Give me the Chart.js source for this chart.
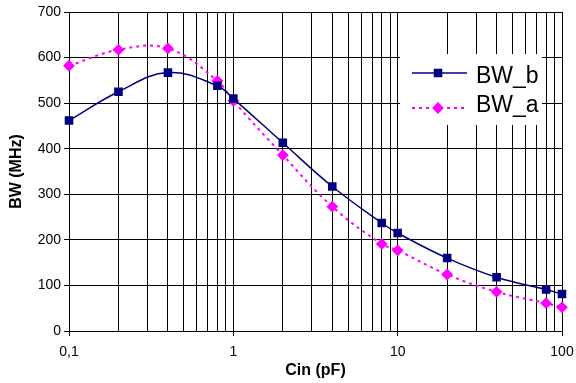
<!DOCTYPE html>
<html>
<head>
<meta charset="utf-8">
<script src="https://cdn.jsdelivr.net/npm/chart.js@4.4.1/dist/chart.umd.min.js"></script>
<style>
  html, body { margin: 0; padding: 0; background: #fff; }
</style>
</head>
<body>
<canvas id="chartId" width="576" height="383"></canvas>
<script>
// data
const cin = [0.1, 0.2, 0.4, 0.8, 1, 2, 4, 8, 10, 20, 40, 80, 100];
const bwB = [462, 525, 567, 538, 510, 413, 317, 237, 215, 160, 118, 91, 81];
const bwA = [582, 617, 620, 549, 505, 386, 273, 191, 177, 124, 86, 61, 52];

// log grid: every 1..9 x 10^n between 0.1 and 100
const xGridTicks = [0.1, 0.2, 0.3, 0.4, 0.5, 0.6, 0.7, 0.8, 0.9,
  1, 2, 3, 4, 5, 6, 7, 8, 9,
  10, 20, 30, 40, 50, 60, 70, 80, 90, 100];
const xMajorTicks = [0.1, 1, 10, 100];
const xMajorLabels = ['0,1', '1', '10', '100'];

const FONT = "'Liberation Sans', Arial, sans-serif";

function pts(xs, ys) {
  return xs.map((x, i) => ({ x: x, y: ys[i] }));
}

function isMajor(v) {
  return xMajorTicks.some(m => Math.abs(m - v) < 1e-9);
}

// legend drawn inside the plot, like the original
const insideLegend = {
  id: 'insideLegend',
  afterDatasetsDraw(chart) {
    const ctx = chart.ctx;
    ctx.save();
    ctx.fillStyle = '#fff';
    ctx.fillRect(400, 54, 142, 71);
    const lineY = [73, 108];
    const textY = [77, 106];
    chart.data.datasets.forEach((ds, i) => {
      const y = lineY[i];
      ctx.strokeStyle = ds.borderColor;
      ctx.lineWidth = ds.borderWidth;
      ctx.setLineDash(ds.borderDash || []);
      ctx.beginPath();
      ctx.moveTo(412, y);
      ctx.lineTo(467, y);
      ctx.stroke();
      ctx.setLineDash([]);
      ctx.fillStyle = ds.pointBackgroundColor;
      ctx.strokeStyle = ds.pointBorderColor;
      Chart.helpers.drawPoint(ctx, {
        pointStyle: ds.pointStyle,
        radius: ds.pointRadius,
        rotation: 0,
        borderWidth: 1
      }, 438, y);
      ctx.fillStyle = '#000';
      ctx.font = '23px ' + FONT;
      ctx.textBaseline = 'middle';
      ctx.textAlign = 'left';
      ctx.fillText(ds.label, 476, textY[i]);
    });
    ctx.restore();
  }
};

var chrt = document.getElementById('chartId').getContext('2d');

let chartConfig = {
  type: 'line',
  data: {
    datasets: [{
      label: 'BW_b',
      data: pts(cin, bwB),
      borderColor: '#000080',
      borderWidth: 1.5,
      pointStyle: 'rect',
      pointRadius: 5,
      pointBackgroundColor: '#000080',
      pointBorderColor: '#000080',
      tension: 0.4,
      clip: false
    }, {
      label: 'BW_a',
      data: pts(cin, bwA),
      borderColor: '#ff00ff',
      borderWidth: 2,
      borderDash: [3, 4],
      pointStyle: 'rectRot',
      pointRadius: 4.5,
      pointBackgroundColor: '#ff00ff',
      pointBorderColor: '#ff00ff',
      tension: 0.4,
      clip: false
    }]
  },
  options: {
    responsive: false,
    devicePixelRatio: 1,
    animation: false,
    layout: { padding: { top: 12, right: 14, left: 0, bottom: 0 } },
    plugins: {
      legend: { display: false },
      tooltip: { enabled: false }
    },
    scales: {
      x: {
        type: 'logarithmic',
        min: 0.1,
        max: 100,
        afterBuildTicks: (scale) => {
          scale.ticks = xGridTicks.map(v => ({ value: v, major: isMajor(v) }));
        },
        afterFit: (scale) => {
          scale.height = 52;
          scale.paddingRight = 0;
          scale.paddingLeft = 0;
        },
        grid: {
          color: '#000',
          lineWidth: 1,
          drawTicks: true,
          tickLength: 5,
          tickColor: (c) => (c.tick && isMajor(c.tick.value)) ? '#000' : 'rgba(0,0,0,0)'
        },
        border: { color: '#000', width: 1 },
        ticks: {
          autoSkip: false,
          maxRotation: 0,
          padding: 8,
          color: '#000',
          font: { family: FONT, size: 14 },
          callback: (value) => {
            const k = xMajorTicks.findIndex(m => Math.abs(m - value) < 1e-9);
            return k >= 0 ? xMajorLabels[k] : '';
          }
        },
        title: {
          display: true,
          text: 'Cin (pF)',
          color: '#000',
          padding: { top: 0, bottom: 3 },
          font: { family: FONT, size: 16, weight: 'bold' }
        }
      },
      y: {
        min: 0,
        max: 700,
        afterFit: (scale) => { scale.width = 69; },
        grid: {
          color: '#000',
          lineWidth: 1,
          drawTicks: true,
          tickLength: 5,
          tickColor: '#000'
        },
        border: { color: '#000', width: 1 },
        ticks: {
          stepSize: 100,
          padding: 3,
          color: '#000',
          font: { family: FONT, size: 14 }
        },
        title: {
          display: true,
          text: 'BW (MHz)',
          color: '#000',
          padding: { top: 7, bottom: 0 },
          font: { family: FONT, size: 16, weight: 'bold' }
        }
      }
    }
  },
  plugins: [insideLegend]
};

window.bwChart = new Chart(chrt, chartConfig);
</script>
</body>
</html>
